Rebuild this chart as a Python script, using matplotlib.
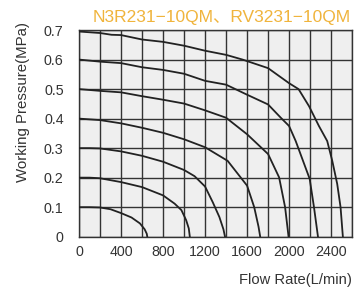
import matplotlib
matplotlib.use("Agg")
import matplotlib.pyplot as plt

plt.rcParams['font.family'] = ['Liberation Sans', 'Noto Sans CJK SC', 'DejaVu Sans']

# flow rate (L/min) vs working pressure (MPa), one curve per supply pressure
flow_01 = [0, 100, 200, 300, 400, 500, 580, 625, 645, 650]
pres_01 = [0.1, 0.1, 0.099, 0.093, 0.08, 0.065, 0.045, 0.025, 0.01, 0]

flow_02 = [0, 100, 200, 400, 600, 800, 910, 975, 1020, 1045, 1055]
pres_02 = [0.2, 0.2, 0.198, 0.185, 0.168, 0.14, 0.112, 0.09, 0.056, 0.028, 0]

flow_03 = [0, 100, 200, 400, 600, 800, 1000, 1100, 1200, 1273, 1336, 1375, 1390]
pres_03 = [0.3, 0.3, 0.299, 0.289, 0.274, 0.254, 0.226, 0.205, 0.17, 0.117, 0.067, 0.025, 0]

flow_04 = [0, 200, 400, 600, 800, 1000, 1200, 1415, 1600, 1668, 1709, 1725]
pres_04 = [0.4, 0.395, 0.384, 0.369, 0.352, 0.33, 0.303, 0.257, 0.173, 0.1, 0.034, 0]

flow_05 = [0, 200, 400, 600, 800, 1000, 1200, 1400, 1600, 1800, 1905, 1962, 1995]
pres_05 = [0.5, 0.494, 0.489, 0.476, 0.464, 0.451, 0.428, 0.403, 0.347, 0.28, 0.201, 0.1, 0]

flow_06 = [0, 200, 400, 600, 800, 1000, 1200, 1400, 1600, 1800, 1921, 2000, 2063, 2196, 2237, 2275]
pres_06 = [0.6, 0.593, 0.588, 0.574, 0.565, 0.552, 0.528, 0.515, 0.481, 0.448, 0.403, 0.375, 0.324, 0.196, 0.1, 0]

flow_07 = [0, 200, 310, 400, 600, 800, 1000, 1200, 1400, 1557, 1800, 2000, 2090, 2190, 2284, 2363, 2411, 2458, 2490, 2512]
pres_07 = [0.695, 0.69, 0.684, 0.683, 0.668, 0.66, 0.647, 0.63, 0.616, 0.6, 0.571, 0.52, 0.5, 0.442, 0.375, 0.324, 0.257, 0.179, 0.1, 0]

curves = [(flow_01, pres_01), (flow_02, pres_02), (flow_03, pres_03), (flow_04, pres_04),
          (flow_05, pres_05), (flow_06, pres_06), (flow_07, pres_07)]

x_grid = list(range(0, 2601, 200))
x_labels = ["0", "", "400", "", "800", "", "1200", "", "1600", "", "2000", "", "2400", ""]
y_ticks = [0, 0.1, 0.2, 0.3, 0.4, 0.5, 0.6, 0.7]
y_labels = ["0", "0.1", "0.2", "0.3", "0.4", "0.5", "0.6", "0.7"]

fig = plt.figure(figsize=(3.57, 2.89), dpi=100)
ax = fig.add_axes([0.2213, 0.181, 0.765, 0.715])
ax.set_facecolor("#efefef")

for fx, py in curves:
    ax.plot(fx, py, color="#222222", lw=1.3, zorder=3)

ax.set_xlim(0, 2600)
ax.set_ylim(0, 0.7)
ax.set_xticks(x_grid)
ax.set_xticklabels(x_labels)
ax.set_yticks(y_ticks)
ax.set_yticklabels(y_labels)
ax.grid(True, color="#333333", lw=1.0, zorder=1)
ax.set_axisbelow(True)
ax.tick_params(axis="both", length=0, labelsize=10.3, labelcolor="#333333")
ax.tick_params(axis="x", pad=6)
ax.tick_params(axis="y", pad=11)
for s in ax.spines.values():
    s.set_color("#333333")
    s.set_linewidth(1.0)

fig.text(0.622, 0.924, "N3R231\u221210QM\u3001RV3231\u221210QM", color="#f0b43c",
         fontsize=12.5, ha="center", va="baseline")
fig.text(0.065, 0.647, "Working Pressure(MPa)", rotation=90, color="#333333",
         fontsize=10.8, ha="center", va="center")
fig.text(0.986, 0.016, "Flow Rate(L/min)", color="#333333",
         fontsize=10.6, ha="right", va="baseline")

fig.savefig("out.png", dpi=100)
